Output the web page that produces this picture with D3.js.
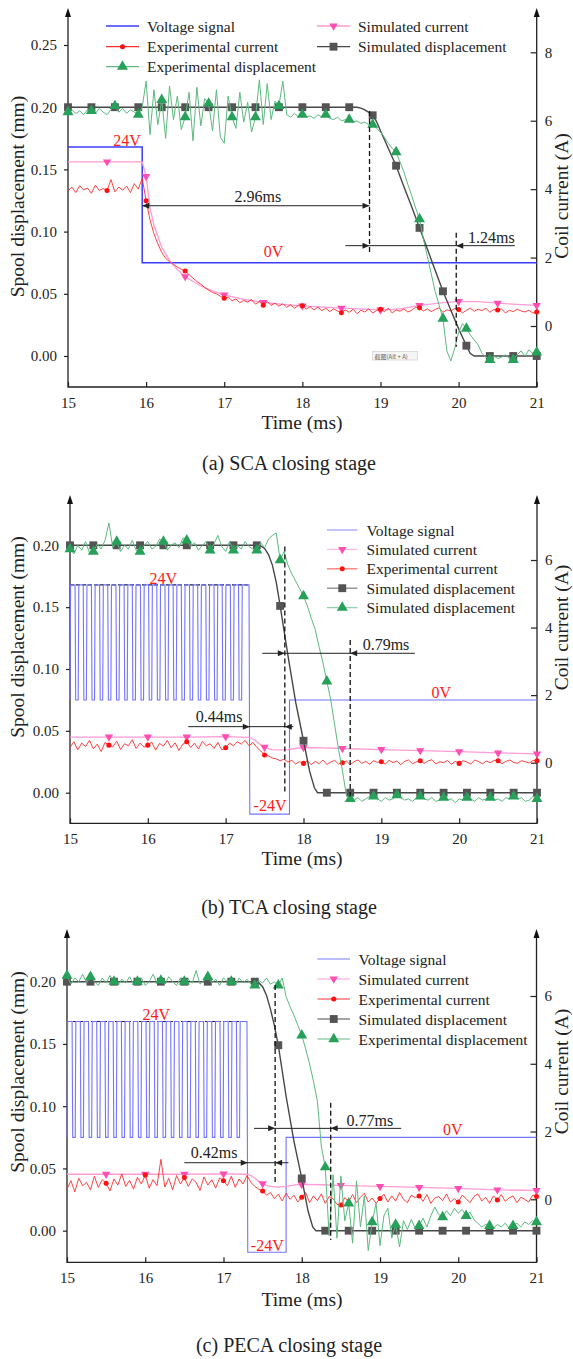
<!DOCTYPE html>
<html>
<head>
<meta charset="utf-8">
<script src="https://cdn.jsdelivr.net/npm/d3@7"></script>
<style>
  body { margin: 0; background: #fff; }
  svg { display: block; }
  text { font-family: "Liberation Serif", "Times New Roman", serif; fill: #222; }
</style>
</head>
<body>
<svg id="chart" width="573" height="1359"></svg>
<script>
// ---------- axis ticks & labels ----------
const timeTicks = [15, 16, 17, 18, 19, 20, 21];
const dispTicksA = [0, 0.05, 0.10, 0.15, 0.20, 0.25];
const dispTicksBC = [0, 0.05, 0.10, 0.15, 0.20];
const currentTicksA = [0, 2, 4, 6, 8];
const currentTicksBC = [0, 2, 4, 6];
const captions = ["(a) SCA closing stage", "(b) TCA closing stage", "(c) PECA closing stage"];
const dispTitle = "Spool displacement (mm)";
const currentTitle = "Coil current (A)";
const timeTitle = "Time (ms)";

const legendKeysA = ["volt", "expCur", "expDisp", "simCur", "simDisp"];
const legendLabelsA = ["Voltage signal", "Experimental current", "Experimental displacement", "Simulated current", "Simulated displacement"];
const legendKeysB = ["volt", "simCur", "expCur", "simDisp", "expDisp"];
const legendLabelsB = ["Voltage signal", "Simulated current", "Experimental current", "Simulated displacement", "Simulated displacement"];
const legendKeysC = ["volt", "simCur", "expCur", "simDisp", "expDisp"];
const legendLabelsC = ["Voltage signal", "Simulated current", "Experimental current", "Simulated displacement", "Experimental displacement"];

// measured traces are sampled every 0.05 ms from 15 ms
const sampleStart = 15;
const sampleStep = 0.05;

// marker times (ms)
const dispMarkerTimes = [15.0, 15.3, 15.6, 15.9, 16.2, 16.5, 16.8, 17.1, 17.4, 17.7, 18.0, 18.3, 18.6, 18.9, 19.2, 19.5, 19.8, 20.1, 20.4, 20.7, 21.0];
const currentMarkerTimes = [15.5, 16.0, 16.5, 17.0, 17.5, 18.0, 18.5, 19.0, 19.5, 20.0, 20.5, 21.0];

// ---------- (a) SCA ----------
const voltageA = [[15.0, 24], [15.95, 24], [15.95, 0], [21.0, 0]];
const expDispA = [
  0.196,0.198,0.195,0.197,0.194,0.198,0.197,0.195,0.199,0.196,
  0.194,0.198,0.201,0.196,0.199,0.195,0.198,0.196,0.194,0.2,
  0.221,0.178,0.214,0.186,0.206,0.175,0.217,0.19,0.209,0.182,
  0.192,0.212,0.173,0.216,0.185,0.207,0.203,0.181,0.214,0.176,
  0.171,0.209,0.192,0.183,0.212,0.188,0.204,0.18,0.192,0.222,
  0.186,0.219,0.19,0.205,0.201,0.221,0.194,0.192,0.195,0.192,
  0.194,0.192,0.193,0.191,0.194,0.192,0.194,0.191,0.19,0.192,
  0.189,0.19,0.19,0.188,0.189,0.187,0.188,0.186,0.186,0.183,
  0.18,0.176,0.171,0.167,0.164,0.156,0.148,0.138,0.129,0.119,
  0.11,0.094,0.08,0.066,0.052,0.041,0.03,0.004,-0.004,0.006,
  0.019,0.026,0.022,0.017,0.013,0.009,0.002,-0.001,-0.003,0.0,
  -0.002,-0.001,0.001,-0.002,-0.003,0.001,0.004,0.0,0.005,0.002,
  0.003];
const expCurA = [
  3.95,4.06,3.9,4.1,3.98,4.03,3.88,4.12,3.96,4.02,
  3.96,4.28,3.92,4.06,3.97,4.09,3.9,4.16,4.0,4.32,
  3.66,3.1,2.7,2.4,2.15,1.98,1.88,1.8,1.72,1.66,
  1.61,1.5,1.4,1.3,1.22,1.13,1.05,0.98,0.94,0.87,
  0.81,0.85,0.74,0.79,0.68,0.75,0.7,0.77,0.64,0.71,
  0.61,0.72,0.6,0.67,0.58,0.65,0.55,0.62,0.52,0.6,
  0.59,0.5,0.56,0.47,0.55,0.45,0.52,0.42,0.5,0.44,
  0.39,0.47,0.4,0.49,0.36,0.46,0.41,0.5,0.38,0.45,
  0.49,0.42,0.52,0.38,0.47,0.43,0.5,0.41,0.46,0.55,
  0.53,0.44,0.5,0.42,0.48,0.53,0.4,0.47,0.44,0.51,
  0.48,0.38,0.46,0.52,0.43,0.49,0.45,0.52,0.4,0.48,
  0.47,0.5,0.38,0.46,0.42,0.49,0.44,0.41,0.46,0.38,
  0.41];
const simDispA = [[15.0,0.2],[15.3,0.2],[15.6,0.2],[15.9,0.2],[16.2,0.2],[16.5,0.2],[16.8,0.2],[17.1,0.2],[17.4,0.2],[17.7,0.2],[18.0,0.2],[18.3,0.2],[18.6,0.2],[18.7,0.2],[18.75,0.1993],[18.8,0.1978],[18.85,0.1958],[18.9,0.1935],[18.95,0.1885],[19.0,0.181],[19.1,0.167],[19.2,0.153],[19.3,0.136],[19.4,0.12],[19.5,0.103],[19.6,0.086],[19.7,0.069],[19.8,0.052],[19.9,0.037],[20.0,0.022],[20.1,0.0083],[20.15,0.002],[20.2,0],[20.4,0],[20.7,0],[21.0,0]];
const simCurA = [[15.0,4.8],[15.5,4.8],[15.95,4.8],[16.0,4.37],[16.05,3.45],[16.1,2.95],[16.2,2.3],[16.3,1.92],[16.4,1.65],[16.5,1.44],[16.6,1.3],[16.7,1.17],[16.8,1.07],[17.0,0.91],[17.25,0.78],[17.5,0.69],[17.75,0.63],[18.0,0.59],[18.5,0.52],[19.0,0.47],[19.25,0.5],[19.5,0.6],[19.75,0.67],[20.0,0.72],[20.25,0.71],[20.5,0.67],[20.75,0.63],[21.0,0.6]];

// ---------- (b) TCA and (c) PECA: PWM hold, then reverse pulse ----------
const pwmOn  = [15.00,15.105,15.21,15.315,15.42,15.525,15.63,15.735,15.84,15.945,16.05,16.155,16.26,16.365,16.47,16.575,16.68,16.785,16.89,16.995,17.10,17.205];
const pwmOff = [15.065,15.17,15.275,15.38,15.485,15.59,15.695,15.80,15.905,16.01,16.115,16.22,16.325,16.43,16.535,16.64,16.745,16.85,16.955,17.06,17.165,17.30];
const reverseB = [[17.31,-24],[17.82,-24],[17.82,0],[21.0,0]];
const reverseC = [[17.31,-24],[17.80,-24],[17.80,0],[21.0,0]];

const expDispB = [
  0.197,0.193,0.2,0.196,0.203,0.194,0.195,0.201,0.197,0.204,
  0.218,0.198,0.203,0.195,0.2,0.197,0.204,0.196,0.195,0.2,
  0.203,0.197,0.199,0.205,0.203,0.196,0.2,0.202,0.198,0.206,
  0.204,0.199,0.202,0.196,0.2,0.203,0.196,0.201,0.208,0.199,
  0.195,0.203,0.196,0.2,0.197,0.203,0.199,0.197,0.196,0.202,
  0.198,0.205,0.208,0.21,0.188,0.195,0.184,0.177,0.171,0.165,
  0.159,0.151,0.141,0.132,0.118,0.105,0.09,0.075,0.055,0.035,
  0.018,-0.002,-0.005,-0.006,-0.004,-0.007,-0.005,-0.003,-0.003,-0.005,
  -0.007,-0.004,-0.006,-0.005,-0.002,-0.004,-0.006,-0.005,-0.007,-0.004,
  -0.003,-0.005,-0.006,-0.004,-0.007,-0.006,-0.004,-0.006,-0.005,-0.008,
  -0.005,-0.006,-0.004,-0.005,-0.007,-0.004,-0.006,-0.005,-0.004,-0.006,
  -0.005,-0.007,-0.004,-0.005,-0.003,-0.005,-0.004,-0.007,-0.006,-0.003,
  -0.005];
const expCurB = [
  0.45,0.62,0.38,0.58,0.48,0.66,0.41,0.55,0.33,0.6,
  0.52,0.47,0.64,0.39,0.56,0.5,0.68,0.42,0.58,0.46,
  0.52,0.61,0.37,0.57,0.49,0.66,0.44,0.59,0.36,0.55,
  0.62,0.45,0.58,0.4,0.63,0.5,0.56,0.42,0.6,0.38,
  0.44,0.58,0.5,0.62,0.55,0.66,0.5,0.6,0.45,0.35,
  0.23,0.2,0.14,0.11,0.06,0.1,0.02,0.07,-0.04,0.03,
  -0.02,0.06,-0.06,0.04,-0.03,0.08,-0.05,0.02,0.07,-0.04,
  0.0,0.05,-0.06,0.03,0.08,-0.02,0.04,-0.05,0.06,0.01,
  0.03,-0.04,0.07,0.0,0.05,-0.06,0.04,0.08,-0.03,0.02,
  0.06,-0.02,0.05,0.09,-0.04,0.03,0.0,0.07,-0.05,0.04,
  -0.02,0.06,0.02,-0.04,0.08,0.03,-0.03,0.05,0.0,0.07,
  0.06,-0.03,0.04,0.08,0.01,-0.02,0.06,0.03,-0.01,0.07,
  0.06];
const simDispB = [[15.0,0.2],[15.3,0.2],[15.6,0.2],[15.9,0.2],[16.2,0.2],[16.5,0.2],[16.8,0.2],[17.1,0.2],[17.4,0.2],[17.45,0.1995],[17.5,0.1975],[17.55,0.1925],[17.6,0.184],[17.65,0.17],[17.7,0.151],[17.8,0.111],[17.9,0.073],[18.0,0.042],[18.08,0.017],[18.14,0.004],[18.18,0],[18.3,0],[18.6,0],[18.9,0],[19.2,0],[19.5,0],[19.8,0],[20.1,0],[20.4,0],[20.7,0],[21.0,0]];
const simCurB = [[15.0,0.76],[15.5,0.76],[16.0,0.76],[16.5,0.76],[17.0,0.77],[17.3,0.75],[17.35,0.71],[17.4,0.62],[17.45,0.53],[17.5,0.46],[17.55,0.41],[17.6,0.39],[17.7,0.38],[17.8,0.39],[17.9,0.42],[18.0,0.45],[18.25,0.44],[18.5,0.42],[19.0,0.39],[19.5,0.36],[20.0,0.33],[20.5,0.29],[21.0,0.26]];

const expDispC = [
  0.205,0.198,0.203,0.2,0.206,0.199,0.204,0.2,0.197,0.203,
  0.199,0.205,0.2,0.197,0.202,0.199,0.204,0.198,0.2,0.203,
  0.197,0.2,0.206,0.199,0.201,0.198,0.204,0.2,0.197,0.203,
  0.2,0.202,0.199,0.209,0.198,0.201,0.204,0.199,0.202,0.197,
  0.203,0.2,0.2,0.197,0.203,0.199,0.202,0.198,0.197,0.201,
  0.199,0.203,0.198,0.2,0.197,0.203,0.188,0.18,0.173,0.165,
  0.157,0.146,0.134,0.12,0.104,0.068,0.051,-0.004,0.045,-0.006,
  0.044,0.008,0.022,-0.01,0.04,0.003,0.028,-0.016,0.007,0.022,
  -0.012,0.012,0.018,-0.006,0.005,-0.013,0.008,0.001,0.009,0.002,
  0.004,0.01,0.003,0.012,0.019,0.013,0.011,0.016,0.012,0.018,
  0.014,0.017,0.012,0.015,0.009,0.006,0.003,0.005,0.004,0.002,
  0.005,0.003,0.006,0.002,0.004,0.006,0.003,0.007,0.005,0.008,
  0.007];
const expCurC = [
  0.3,0.55,0.22,0.62,0.4,0.5,0.28,0.68,0.35,0.58,
  0.47,0.25,0.6,0.42,0.75,0.38,0.56,0.3,0.65,0.45,
  0.72,0.33,0.58,0.4,1.18,0.36,0.62,0.28,0.7,0.45,
  0.64,0.38,0.6,0.5,0.26,0.66,0.42,0.58,0.33,0.63,
  0.55,0.4,0.68,0.35,0.6,0.45,0.7,0.5,0.38,0.3,
  0.245,0.12,0.2,0.02,0.15,-0.05,0.18,0.0,0.12,-0.08,
  0.06,0.2,-0.1,0.1,-0.04,0.16,-0.12,0.08,0.02,-0.15,
  -0.17,0.05,-0.06,0.14,-0.1,0.06,0.18,-0.08,0.04,-0.12,
  0.02,0.15,-0.08,0.1,-0.05,0.2,0.0,-0.1,0.12,0.05,
  0.1,-0.06,0.14,-0.12,0.04,0.08,-0.04,0.16,-0.08,0.02,
  -0.08,0.12,0.02,-0.1,0.08,0.16,-0.05,0.06,-0.12,0.1,
  -0.02,0.14,-0.06,0.04,0.1,-0.1,0.06,0.0,-0.08,0.12,
  0.08];
const simDispC = [[15.0,0.2],[15.3,0.2],[15.6,0.2],[15.9,0.2],[16.2,0.2],[16.5,0.2],[16.8,0.2],[17.1,0.2],[17.4,0.2],[17.45,0.1992],[17.5,0.196],[17.55,0.189],[17.6,0.178],[17.65,0.165],[17.7,0.149],[17.8,0.108],[17.9,0.072],[18.0,0.042],[18.08,0.016],[18.14,0.003],[18.18,0],[18.3,0],[18.6,0],[18.9,0],[19.2,0],[19.5,0],[19.8,0],[20.1,0],[20.4,0],[20.7,0],[21.0,0]];
const simCurC = [[15.0,0.74],[15.5,0.74],[16.0,0.74],[16.5,0.74],[17.0,0.75],[17.3,0.74],[17.35,0.7],[17.4,0.62],[17.45,0.53],[17.5,0.46],[17.55,0.41],[17.6,0.38],[17.7,0.36],[17.8,0.38],[17.9,0.42],[18.0,0.44],[18.25,0.43],[18.5,0.41],[19.0,0.38],[19.5,0.35],[20.0,0.32],[20.5,0.28],[21.0,0.26]];

// ---------- helpers ----------
const sampled = arr => arr.map((v, i) => [sampleStart + i * sampleStep, v]);
const atTimes = (pairs, times) => pairs.filter(p => times.some(t => Math.abs(t - p[0]) < 1e-6));
function pwmTrace(on, off, tail) {
  const pts = [];
  on.forEach((t, i) => {
    pts.push([t, 0], [t + 0.008, 24], [off[i], 24]);
    if (i < on.length - 1) pts.push([off[i] + 0.008, 0]);
  });
  return pts.concat(tail);
}

// ---------- styles ----------
const seriesStyle = {
  volt:    { stroke: "#3c3cff", width: 1.4 },
  simCur:  { stroke: "#ff9bd6", width: 1.3, symbol: "down", fill: "#ff4db2", size: 30 },
  expCur:  { stroke: "#ff2e2e", width: 0.9, symbol: d3.symbolCircle, fill: "#ff1010", size: 20 },
  simDisp: { stroke: "#474747", width: 1.4, symbol: d3.symbolSquare, fill: "#545454", size: 62 },
  expDisp: { stroke: "#5cb97f", width: 1.0, symbol: d3.symbolTriangle, fill: "#27a05a", size: 52 }
};

// ---------- panel layouts ----------
const panels = [
  {
    xRange: [68, 536.7], disp: { dom: [0, 0.25], rng: [356, 45] }, cur: { dom: [0, 8], rng: [326, 52.3] },
    bottom: 387, top: 8, dispTicks: dispTicksA, curTicks: currentTicksA,
    voltage: voltageA, voltColor: "#3c3cff", voltWidth: 1.5, envelope: null,
    expDisp: expDispA, expCur: expCurA, simDisp: simDispA, simCur: simCurA,
    dispTitleY: 196.5, curTitleY: 196, timeTitleY: 422.3, captionY: 463, caption: captions[0],
    legend: { keys: legendKeysA, labels: legendLabelsA, pos: [[106,26],[106,46.7],[106,66.7],[317,26],[317,46.7]], len: 33, textGap: 8, fade: 1 },
    guides: [{ t: 18.86, from: 0.197, to: 0.082 }, { t: 19.97, from: 0.099, to: 0.0075 }],
    spans: [
      { label: "2.96ms", y: 0.1208, a: 15.95, b: 18.86, outside: false, lt: 17.43, ly: 0.1286 },
      { label: "1.24ms", y: 0.0887, a: 18.86, b: 19.97, outside: true, ext: [18.55, 20.72], lt: 20.42, ly: 0.0954 }
    ],
    voltLabels: [{ text: "24V", t: 15.755, y: 0.1736 }, { text: "0V", t: 17.63, y: 0.0838 }],
    tooltip: true
  },
  {
    xRange: [70, 537], disp: { dom: [0, 0.2], rng: [792.7, 545.3] }, cur: { dom: [0, 6], rng: [762.7, 560] },
    bottom: 823.3, top: 495, dispTicks: dispTicksBC, curTicks: currentTicksBC,
    voltage: pwmTrace(pwmOn, pwmOff, reverseB), voltColor: "#7474ff", voltWidth: 1.1, envelope: true,
    expDisp: expDispB, expCur: expCurB, simDisp: simDispB, simCur: simCurB,
    dispTitleY: 637, curTitleY: 627.5, timeTitleY: 858.3, captionY: 906.7, caption: captions[1],
    legend: { keys: legendKeysB, labels: legendLabelsB, pos: [[327,530],[327,549.4],[327,568.8],[327,588.2],[327,607.6]], len: 30.5, textGap: 9, fade: 0.65 },
    guides: [{ t: 17.76, from: 0.199, to: 0.001 }, { t: 18.60, from: 0.1234, to: -0.003 }],
    spans: [
      { label: "0.44ms", y: 0.0534, a: 17.31, b: 17.76, outside: true, ext: [16.52, 17.87], lt: 16.915, ly: 0.0614 },
      { label: "0.79ms", y: 0.1127, a: 17.76, b: 18.60, outside: true, ext: [17.47, 19.43], lt: 19.06, ly: 0.1202 }
    ],
    voltLabels: [{ text: "24V", t: 16.2, y: 0.1733 }, { text: "-24V", t: 17.57, y: -0.010 }, { text: "0V", t: 19.77, y: 0.0808 }],
    tooltip: false
  },
  {
    xRange: [67, 536.5], disp: { dom: [0, 0.2], rng: [1230.7, 981.7] }, cur: { dom: [0, 6], rng: [1199.3, 996] },
    bottom: 1262.3, top: 929, dispTicks: dispTicksBC, curTicks: currentTicksBC,
    voltage: pwmTrace(pwmOn, pwmOff, reverseC), voltColor: "#7474ff", voltWidth: 1.1, envelope: true,
    expDisp: expDispC, expCur: expCurC, simDisp: simDispC, simCur: simCurC,
    dispTitleY: 1072, curTitleY: 1071.5, timeTitleY: 1299.3, captionY: 1345, caption: captions[2],
    legend: { keys: legendKeysC, labels: legendLabelsC, pos: [[317.5,959],[317.5,979],[317.5,999],[317.5,1019],[317.5,1039]], len: 32.5, textGap: 8.5, fade: 0.65 },
    guides: [{ t: 17.66, from: 0.1974, to: 0.0391 }, { t: 18.37, from: 0.1028, to: -0.0075 }],
    spans: [
      { label: "0.42ms", y: 0.0546, a: 17.31, b: 17.66, outside: true, ext: [16.50, 17.83], lt: 16.88, ly: 0.0627 },
      { label: "0.77ms", y: 0.0822, a: 17.66, b: 18.37, outside: true, ext: [17.39, 19.27], lt: 18.87, ly: 0.0889 }
    ],
    voltLabels: [{ text: "24V", t: 16.14, y: 0.1738 }, { text: "-24V", t: 17.56, y: -0.012 }, { text: "0V", t: 19.93, y: 0.0809 }],
    tooltip: false
  }
];

const svg = d3.select("#chart");

function symbolPath(style) {
  if (style.symbol === "down") return d3.symbol().type(d3.symbolTriangle).size(style.size)();
  return d3.symbol().type(style.symbol).size(style.size)();
}

function arrowHead(g, xTip, y, dir) {
  g.append("path")
    .attr("d", `M${xTip},${y}L${xTip - dir * 7},${y - 3}L${xTip - dir * 7},${y + 3}Z`)
    .attr("fill", "#222");
}

function drawPanel(p) {
  const g = svg.append("g");
  const x = d3.scaleLinear().domain([15, 21]).range(p.xRange);
  const yD = d3.scaleLinear().domain(p.disp.dom).range(p.disp.rng);
  const yC = d3.scaleLinear().domain(p.cur.dom).range(p.cur.rng);
  // hidden voltage scale, mapped into the displacement axis
  const yV = d3.scaleLinear().domain([-24, 0, 24]).range([yD(-0.0173), yD(0.075), yD(0.168)]);
  const [x0, x1] = p.xRange;

  // --- axes ---
  const left = g.append("g").attr("transform", `translate(${x0},0)`)
    .call(d3.axisLeft(yD).tickValues(p.dispTicks).tickFormat(d3.format(".2f")).tickSize(4).tickPadding(7));
  const right = g.append("g").attr("transform", `translate(${x1},0)`)
    .call(d3.axisRight(yC).tickValues(p.curTicks).tickFormat(d3.format("d")).tickSizeInner(-6).tickSizeOuter(0).tickPadding(8));
  const bottom = g.append("g").attr("transform", `translate(0,${p.bottom})`)
    .call(d3.axisBottom(x).tickValues(timeTicks).tickFormat(d3.format("d")).tickSizeInner(-5).tickSizeOuter(0).tickPadding(10));
  [left, right, bottom].forEach(a => {
    a.select(".domain").remove();
    a.selectAll(".tick line").attr("stroke", "#222").attr("stroke-width", 1.2);
    a.selectAll(".tick text").attr("font-size", 15).attr("font-family", "Liberation Serif").attr("fill", "#222");
  });
  // frame lines with arrows on the vertical axes
  g.append("path").attr("d", `M${x0},${p.top + 6}V${p.bottom}H${x1}V${p.top + 6}`)
    .attr("fill", "none").attr("stroke", "#222").attr("stroke-width", 1.3);
  [x0, x1].forEach(ax => {
    g.append("path").attr("d", `M${ax},${p.top}L${ax - 3},${p.top + 9}L${ax + 3},${p.top + 9}Z`).attr("fill", "#111");
  });

  // axis titles
  g.append("text").attr("transform", `translate(17,${p.dispTitleY}) rotate(-90)`)
    .attr("text-anchor", "middle").attr("dominant-baseline", "central").attr("font-size", 19.5).text(dispTitle);
  g.append("text").attr("transform", `translate(561,${p.curTitleY}) rotate(-90)`)
    .attr("text-anchor", "middle").attr("dominant-baseline", "central").attr("font-size", 19.5).text(currentTitle);
  g.append("text").attr("x", 302).attr("y", p.timeTitleY)
    .attr("text-anchor", "middle").attr("dominant-baseline", "central").attr("font-size", 19.5).text(timeTitle);
  g.append("text").attr("x", 289).attr("y", p.captionY)
    .attr("text-anchor", "middle").attr("dominant-baseline", "central").attr("font-size", 20).text(p.caption);

  // --- voltage signal ---
  if (p.envelope) {
    const ext = [d3.min(pwmOn), d3.max(pwmOff)];
    g.append("line").attr("x1", x(ext[0])).attr("x2", x(ext[1])).attr("y1", yV(24)).attr("y2", yV(24))
      .attr("stroke", "#222").attr("stroke-width", 1.1).attr("stroke-dasharray", "4,2");
  }
  g.append("path").datum(p.voltage)
    .attr("d", d3.line().x(d => x(d[0])).y(d => yV(d[1])))
    .attr("fill", "none").attr("stroke", p.voltColor).attr("stroke-width", p.voltWidth);

  // --- currents ---
  const curLine = d3.line().x(d => x(d[0])).y(d => yC(d[1]));
  const dispLine = d3.line().x(d => x(d[0])).y(d => yD(d[1]));
  const expCurPts = sampled(p.expCur);
  const expDispPts = sampled(p.expDisp);

  g.append("path").datum(p.simCur).attr("d", curLine)
    .attr("fill", "none").attr("stroke", seriesStyle.simCur.stroke).attr("stroke-width", seriesStyle.simCur.width);
  g.append("path").datum(expCurPts).attr("d", curLine)
    .attr("fill", "none").attr("stroke", seriesStyle.expCur.stroke).attr("stroke-width", seriesStyle.expCur.width);
  g.selectAll(null).data(atTimes(p.simCur, currentMarkerTimes)).join("path")
    .attr("d", symbolPath(seriesStyle.simCur))
    .attr("transform", d => `translate(${x(d[0])},${yC(d[1])}) rotate(180)`)
    .attr("fill", seriesStyle.simCur.fill);
  g.selectAll(null).data(atTimes(expCurPts, currentMarkerTimes)).join("path")
    .attr("d", symbolPath(seriesStyle.expCur))
    .attr("transform", d => `translate(${x(d[0])},${yC(d[1])})`)
    .attr("fill", seriesStyle.expCur.fill);

  // --- displacements ---
  g.append("path").datum(p.simDisp).attr("d", dispLine)
    .attr("fill", "none").attr("stroke", seriesStyle.simDisp.stroke).attr("stroke-width", seriesStyle.simDisp.width);
  g.selectAll(null).data(atTimes(p.simDisp, dispMarkerTimes)).join("path")
    .attr("d", symbolPath(seriesStyle.simDisp))
    .attr("transform", d => `translate(${x(d[0])},${yD(d[1])})`)
    .attr("fill", seriesStyle.simDisp.fill);
  g.append("path").datum(expDispPts).attr("d", dispLine)
    .attr("fill", "none").attr("stroke", seriesStyle.expDisp.stroke).attr("stroke-width", seriesStyle.expDisp.width);
  g.selectAll(null).data(atTimes(expDispPts, dispMarkerTimes)).join("path")
    .attr("d", symbolPath(seriesStyle.expDisp))
    .attr("transform", d => `translate(${x(d[0])},${yD(d[1])})`)
    .attr("fill", seriesStyle.expDisp.fill);

  // --- timing guides ---
  p.guides.forEach(gd => {
    g.append("line").attr("x1", x(gd.t)).attr("x2", x(gd.t)).attr("y1", yD(gd.from)).attr("y2", yD(gd.to))
      .attr("stroke", "#111").attr("stroke-width", 1.3).attr("stroke-dasharray", "5,3");
  });
  p.spans.forEach(s => {
    const y = yD(s.y);
    if (s.outside) {
      g.append("line").attr("x1", x(s.ext[0])).attr("x2", x(s.ext[1])).attr("y1", y).attr("y2", y)
        .attr("stroke", "#222").attr("stroke-width", 1);
      arrowHead(g, x(s.a), y, 1);
      arrowHead(g, x(s.b), y, -1);
    } else {
      g.append("line").attr("x1", x(s.a)).attr("x2", x(s.b)).attr("y1", y).attr("y2", y)
        .attr("stroke", "#222").attr("stroke-width", 1);
      arrowHead(g, x(s.a), y, -1);
      arrowHead(g, x(s.b), y, 1);
    }
    g.append("text").attr("x", x(s.lt)).attr("y", yD(s.ly))
      .attr("text-anchor", "middle").attr("dominant-baseline", "central").attr("font-size", 16).text(s.label);
  });
  p.voltLabels.forEach(v => {
    g.append("text").attr("x", x(v.t)).attr("y", yD(v.y))
      .attr("text-anchor", "middle").attr("dominant-baseline", "central").attr("font-size", 16)
      .style("fill", "#ff1a1a").text(v.text);
  });

  // --- legend ---
  const L = p.legend;
  L.keys.forEach((k, i) => {
    const [lx, ly] = L.pos[i];
    const st = seriesStyle[k];
    const color = k === "volt" ? p.voltColor : st.stroke;
    g.append("line").attr("x1", lx).attr("x2", lx + L.len).attr("y1", ly).attr("y2", ly)
      .attr("stroke", color).attr("stroke-width", 1.3).attr("opacity", L.fade);
    if (st.symbol) {
      g.append("path").attr("d", symbolPath(st))
        .attr("transform", `translate(${lx + L.len / 2},${ly})` + (st.symbol === "down" ? " rotate(180)" : ""))
        .attr("fill", st.fill);
    }
    g.append("text").attr("x", lx + L.len + L.textGap).attr("y", ly)
      .attr("dominant-baseline", "central").attr("font-size", 15.5).text(L.labels[i]);
  });

  // screen-capture hint box
  if (p.tooltip) {
    const tg = g.append("g").attr("transform", `translate(${x(19.0)},${yD(-0.0)})`);
    tg.append("rect").attr("x", -8).attr("y", -4.5).attr("width", 45).attr("height", 8.5)
      .attr("fill", "#f5f5f5").attr("stroke", "#c8c8c8").attr("stroke-width", 0.6);
    tg.append("text").attr("x", -6).attr("y", 0).attr("dominant-baseline", "central")
      .attr("font-size", 6).style("font-family", "'Noto Sans CJK SC', sans-serif").style("fill", "#666")
      .text("截图(Alt + A)");
  }
}

panels.forEach(drawPanel);
</script>
</body>
</html>
